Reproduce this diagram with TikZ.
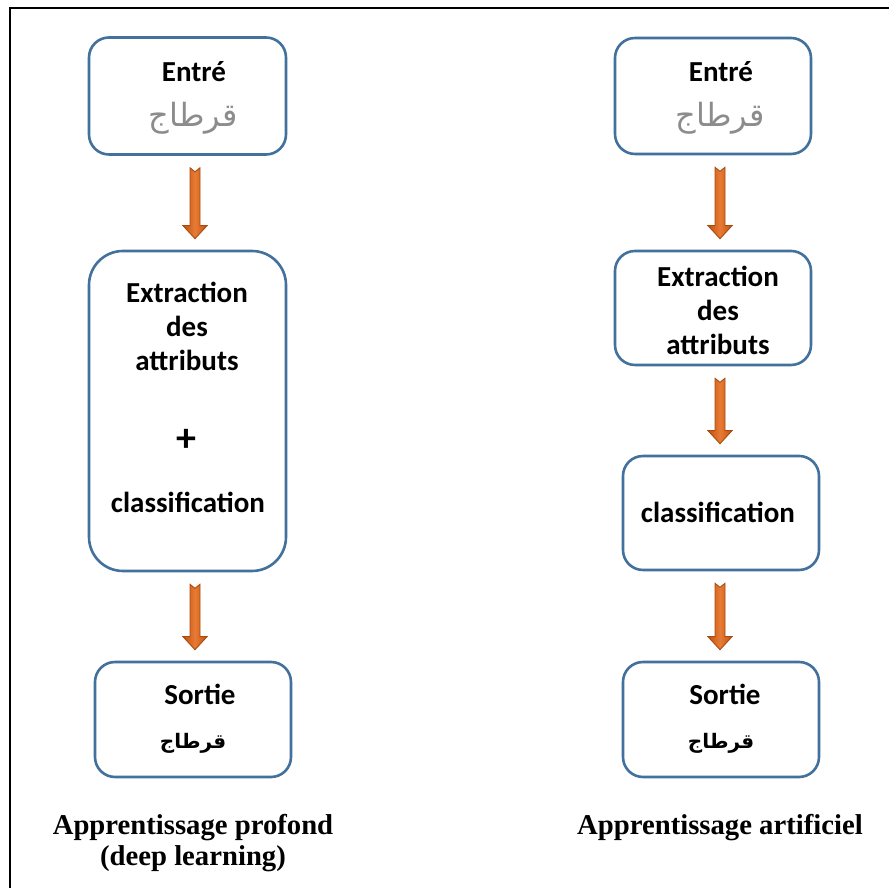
\documentclass[tikz,border=0pt]{standalone}
\usepackage{fontspec}
\setmainfont{Liberation Serif}
\newfontfamily\boxfont{Carlito}
\newfontfamily\arabicfont[Script=Arabic]{DejaVu Sans}
\TeXXeTstate=1
\usetikzlibrary{calc}

\definecolor{boxblue}{RGB}{65,113,156}
\definecolor{arrowedge}{RGB}{170,75,15}
\definecolor{arrowdark}{RGB}{190,85,18}
\definecolor{arrowlight}{RGB}{232,122,52}

\tikzset{
  box/.style={draw=boxblue, line width=2.6pt, fill=white, rounded corners=20pt, inner sep=0pt},
  bigbox/.style={box, rounded corners=34pt},
  boxtext/.style={anchor=base, inner sep=0pt, font=\boxfont\bfseries\fontsize{29}{34}\selectfont},
  plus/.style={anchor=center, inner sep=0pt, font=\boxfont\bfseries\fontsize{40}{40}\selectfont},
  arhand/.style={anchor=base, inner sep=0pt, text=black!45, font=\arabicfont\fontsize{32}{32}\selectfont},
  arbold/.style={anchor=base, inner sep=0pt, font=\arabicfont\bfseries\fontsize{20}{20}\selectfont},
  caption/.style={anchor=base, inner sep=0pt, font=\bfseries\fontsize{28.7}{32}\selectfont},
  blockarrow/.style={draw=arrowedge, line width=0.9pt, line join=miter,
    left color=arrowdark, right color=arrowdark, middle color=arrowlight},
}

% block arrow at horizontal position #1, from below node #2 down to node #3
\newcommand\orangearrow[3]{%
  \path[blockarrow] let \p1=(#2.south), \p2=(#3.north) in
    (#1-5, \y1-12) -- (#1, \y1-16) -- (#1+5, \y1-12) -- (#1+5, \y2+24)
    -- (#1+12, \y2+24) -- (#1, \y2+11) -- (#1-12, \y2+24) -- (#1-5, \y2+24) -- cycle;}

\begin{document}
\begin{tikzpicture}[x=1pt, y=1pt]
\useasboundingbox (0,0) rectangle (889,888);
\fill[white] (0,0) rectangle (889,888);

% outer frame (left and top edges)
\draw[line width=2pt] (10,0) -- (10,879.5) -- (889,879.5);

% ---- deep learning column ----
\node[box, minimum width=197pt, minimum height=117pt] (L1) at (187.5,792) {};
\node[bigbox, minimum width=197pt, minimum height=320pt] (L2) at (187.5,477) {};
\node[box, minimum width=196pt, minimum height=115pt] (L3) at (193,168.5) {};

\node[boxtext] (L1a) at (194,806) {Entré};
\node[arhand] (L1b) at (193,761) {\beginR قرطاج\endR};

\node[boxtext] (L2a) at (187,585) {Extraction};
\node[boxtext] (L2b) at (187,551) {des};
\node[boxtext] (L2c) at (187,517) {attributs};
\node[plus] (L2d) at (186,448) {+};
\node[boxtext] (L2e) at (188,375) {classification};

\node[boxtext] (L3a) at (200,183) {Sortie};
\node[arbold] (L3b) at (193,139) {\beginR قرطاج\endR};

\orangearrow{195}{L1}{L2}
\orangearrow{195}{L2}{L3}

\node[caption] (capL1) at (193,53) {Apprentissage profond};
\node[caption] (capL2) at (193,22) {(deep learning)};

% ---- classic machine learning column ----
\node[box, minimum width=196pt, minimum height=116pt] (R1) at (713,792) {};
\node[box, minimum width=196pt, minimum height=114pt] (R2) at (713,580) {};
\node[box, minimum width=196pt, minimum height=114pt] (R3) at (721,375) {};
\node[box, minimum width=196pt, minimum height=115pt] (R4) at (721,168.5) {};

\node[boxtext] (R1a) at (721,806) {Entré};
\node[arhand] (R1b) at (720,761) {\beginR قرطاج\endR};

\node[boxtext] (R2a) at (718,601) {Extraction};
\node[boxtext] (R2b) at (718,567) {des};
\node[boxtext] (R2c) at (718,533) {attributs};

\node[boxtext] (R3a) at (718,365) {classification};

\node[boxtext] (R4a) at (725,183) {Sortie};
\node[arbold] (R4b) at (721,139) {\beginR قرطاج\endR};

\orangearrow{720}{R1}{R2}
\orangearrow{720}{R2}{R3}
\orangearrow{720}{R3}{R4}

\node[caption] (capR) at (720,53) {Apprentissage artificiel};
\end{tikzpicture}
\end{document}
